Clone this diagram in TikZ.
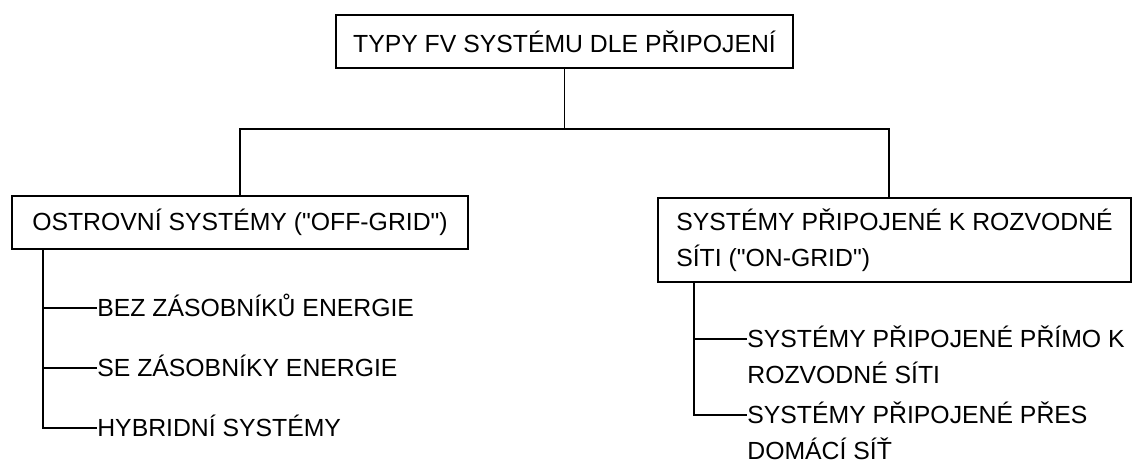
\documentclass[tikz,border=0pt]{standalone}
\usepackage{fontspec}
\setmainfont{Liberation Sans}[Ligatures=TeXOff]
\usepackage{tikz}

\begin{document}
\begin{tikzpicture}[
		box/.style={draw, rectangle, line width=1pt, minimum height=1.06cm, align=center, font=\fontsize{14.1}{20.5}\selectfont},
		wideBox/.style={box, minimum height=1.68cm, minimum width=9.46cm, align=left},
		polozka/.style={anchor=base west, inner sep=0pt, align=left, font=\fontsize{14.1}{20.5}\selectfont},
		vetev/.style={line width=1pt}
	]
	\useasboundingbox (0,0) rectangle (22.64,-9.28);

	\node[box, minimum width=9.14cm] (typy) at (11.29,-0.83) {TYPY FV SYSTÉMU DLE PŘIPOJENÍ};
	\node[box, minimum width=9.12cm] (ostrov) at (4.80,-4.45) {OSTROVNÍ SYSTÉMY ("OFF-GRID")};
	\node[wideBox] (sit) at (17.89,-4.80) {SYSTÉMY PŘIPOJENÉ K ROZVODNÉ\\SÍTI ("ON-GRID")};

	\node[polozka] (bez) at (1.94,-6.33) {BEZ ZÁSOBNÍKŮ ENERGIE};
	\node[polozka] (se) at (1.94,-7.53) {SE ZÁSOBNÍKY ENERGIE};
	\node[polozka] (hybrid) at (1.94,-8.73) {HYBRIDNÍ SYSTÉMY};
	% base = posledni radek
	\node[polozka] (primo) at (14.94,-7.67) {SYSTÉMY PŘIPOJENÉ PŘÍMO K\\ROZVODNÉ SÍTI};
	\node[polozka] (domaci) at (14.94,-9.19) {SYSTÉMY PŘIPOJENÉ PŘES\\DOMÁCÍ SÍŤ};

	% Hlavni vetveni
	\draw[vetev] (typy.south) -- ++(0,-1.2) coordinate (rozdel);
	\draw[vetev] (ostrov.north) |- (rozdel) -| ([xshift=-0.11cm]sit.north);

	% Ostrovni systemy
	\draw[vetev] ([xshift=0.64cm]ostrov.south west) coordinate (osa1) |- ([yshift=0.17cm]hybrid.base west);
	\draw[vetev] (osa1 |- bez.base) ++(0,0.17) -- ([yshift=0.17cm]bez.base west);
	\draw[vetev] (osa1 |- se.base) ++(0,0.17) -- ([yshift=0.17cm]se.base west);

	% Site
	\draw[vetev] ([xshift=0.74cm]sit.south west) coordinate (osa2) |- ([yshift=0.89cm]domaci.base west);
	\draw[vetev] (osa2 |- primo.base) ++(0,0.89) -- ([yshift=0.89cm]primo.base west);
\end{tikzpicture}
\end{document}
